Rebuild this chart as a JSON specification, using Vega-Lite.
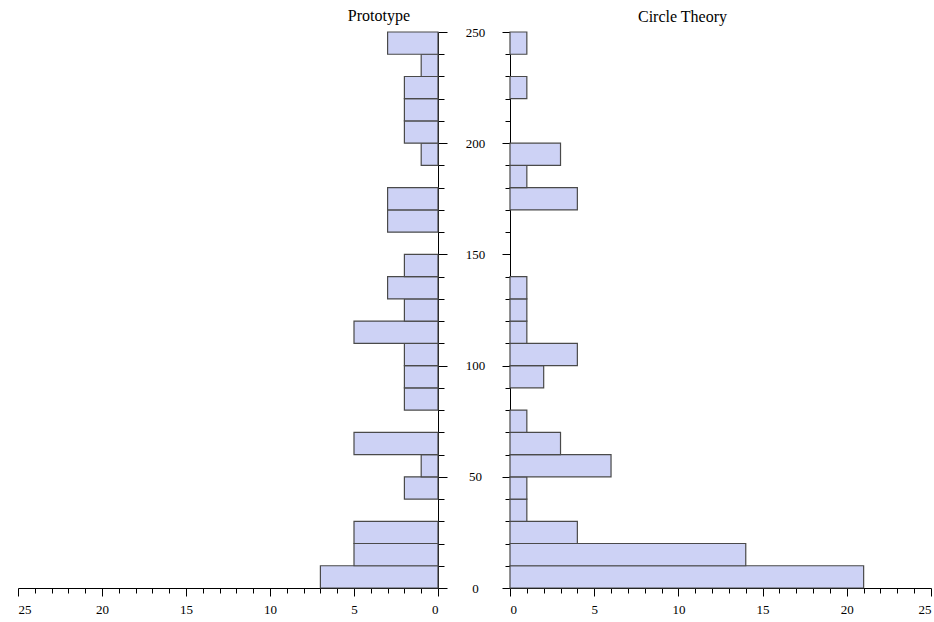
{
  "$schema": "https://vega.github.io/schema/vega-lite/v6.json",
  "background": "white",
  "padding": {"left": 17, "top": 8, "right": 4, "bottom": 5},
  "bounds": "flush",
  "spacing": 72,
  "config": {
    "font": "Liberation Serif",
    "view": {"stroke": null},
    "axis": {
      "grid": false,
      "domainColor": "#000000",
      "domainWidth": 1,
      "tickColor": "#000000",
      "tickWidth": 1,
      "labelFont": "Liberation Serif",
      "labelFontSize": 13,
      "labelColor": "#000000",
      "title": null
    },
    "title": {"font": "Liberation Serif", "fontSize": 16, "fontWeight": "normal", "color": "#000000"}
  },
  "datasets": {
    "proto": [
      {"lo": 0, "hi": 10, "count": 7},
      {"lo": 10, "hi": 20, "count": 5},
      {"lo": 20, "hi": 30, "count": 5},
      {"lo": 30, "hi": 40, "count": 0},
      {"lo": 40, "hi": 50, "count": 2},
      {"lo": 50, "hi": 60, "count": 1},
      {"lo": 60, "hi": 70, "count": 5},
      {"lo": 70, "hi": 80, "count": 0},
      {"lo": 80, "hi": 90, "count": 2},
      {"lo": 90, "hi": 100, "count": 2},
      {"lo": 100, "hi": 110, "count": 2},
      {"lo": 110, "hi": 120, "count": 5},
      {"lo": 120, "hi": 130, "count": 2},
      {"lo": 130, "hi": 140, "count": 3},
      {"lo": 140, "hi": 150, "count": 2},
      {"lo": 150, "hi": 160, "count": 0},
      {"lo": 160, "hi": 170, "count": 3},
      {"lo": 170, "hi": 180, "count": 3},
      {"lo": 180, "hi": 190, "count": 0},
      {"lo": 190, "hi": 200, "count": 1},
      {"lo": 200, "hi": 210, "count": 2},
      {"lo": 210, "hi": 220, "count": 2},
      {"lo": 220, "hi": 230, "count": 2},
      {"lo": 230, "hi": 240, "count": 1},
      {"lo": 240, "hi": 250, "count": 3}
    ],
    "circle": [
      {"lo": 0, "hi": 10, "count": 21},
      {"lo": 10, "hi": 20, "count": 14},
      {"lo": 20, "hi": 30, "count": 4},
      {"lo": 30, "hi": 40, "count": 1},
      {"lo": 40, "hi": 50, "count": 1},
      {"lo": 50, "hi": 60, "count": 6},
      {"lo": 60, "hi": 70, "count": 3},
      {"lo": 70, "hi": 80, "count": 1},
      {"lo": 80, "hi": 90, "count": 0},
      {"lo": 90, "hi": 100, "count": 2},
      {"lo": 100, "hi": 110, "count": 4},
      {"lo": 110, "hi": 120, "count": 1},
      {"lo": 120, "hi": 130, "count": 1},
      {"lo": 130, "hi": 140, "count": 1},
      {"lo": 140, "hi": 150, "count": 0},
      {"lo": 150, "hi": 160, "count": 0},
      {"lo": 160, "hi": 170, "count": 0},
      {"lo": 170, "hi": 180, "count": 4},
      {"lo": 180, "hi": 190, "count": 1},
      {"lo": 190, "hi": 200, "count": 3},
      {"lo": 200, "hi": 210, "count": 0},
      {"lo": 210, "hi": 220, "count": 0},
      {"lo": 220, "hi": 230, "count": 1},
      {"lo": 230, "hi": 240, "count": 0},
      {"lo": 240, "hi": 250, "count": 1}
    ]
  },
  "hconcat": [
    {
      "width": 420,
      "height": 556,
      "title": {"text": "Prototype", "anchor": "end", "frame": "group", "dx": -28, "offset": 7},
      "data": {"name": "proto"},
      "transform": [{"filter": "datum.count > 0"}],
      "mark": {"type": "rect", "fill": "#cdd2f5", "stroke": "#4a4a4a", "strokeWidth": 1.2},
      "encoding": {
        "y": {
          "field": "lo", "type": "quantitative",
          "scale": {"domain": [0, 250], "nice": false},
          "axis": {
            "orient": "right",
            "values": [0,10,20,30,40,50,60,70,80,90,100,110,120,130,140,150,160,170,180,190,200,210,220,230,240,250],
            "labels": false,
            "tickSize": {"condition": {"test": "datum.value % 50 === 0", "value": 9}, "value": 6}
          }
        },
        "y2": {"field": "hi"},
        "x": {
          "field": "count", "type": "quantitative",
          "scale": {"domain": [0, 25], "reverse": true, "nice": false},
          "axis": {
            "values": [0,1,2,3,4,5,6,7,8,9,10,11,12,13,14,15,16,17,18,19,20,21,22,23,24,25],
            "labelExpr": "datum.value % 5 === 0 ? datum.label : ''",
            "labelPadding": 7,
            "tickSize": {"condition": {"test": "datum.value % 5 === 0", "value": 8}, "value": 5}
          }
        },
        "x2": {"datum": 0}
      }
    },
    {
      "width": 421,
      "height": 556,
      "title": {"text": "Circle Theory", "anchor": "start", "frame": "group", "dx": 128, "offset": 1},
      "data": {"name": "circle"},
      "transform": [{"filter": "datum.count > 0"}],
      "mark": {"type": "rect", "fill": "#cdd2f5", "stroke": "#4a4a4a", "strokeWidth": 1.2},
      "encoding": {
        "y": {
          "field": "lo", "type": "quantitative",
          "scale": {"domain": [0, 250], "nice": false},
          "axis": {
            "orient": "left",
            "values": [0,10,20,30,40,50,60,70,80,90,100,110,120,130,140,150,160,170,180,190,200,210,220,230,240,250],
            "labelExpr": "datum.value % 50 === 0 ? datum.label : ''",
            "labelAlign": "center",
            "labelPadding": 27,
            "tickSize": {"condition": {"test": "datum.value % 50 === 0", "value": 8}, "value": 5}
          }
        },
        "y2": {"field": "hi"},
        "x": {
          "field": "count", "type": "quantitative",
          "scale": {"domain": [0, 25], "nice": false},
          "axis": {
            "values": [0,1,2,3,4,5,6,7,8,9,10,11,12,13,14,15,16,17,18,19,20,21,22,23,24,25],
            "labelExpr": "datum.value % 5 === 0 ? datum.label : ''",
            "labelPadding": 7,
            "tickSize": {"condition": {"test": "datum.value % 5 === 0", "value": 8}, "value": 5}
          }
        },
        "x2": {"datum": 0}
      }
    }
  ]
}
